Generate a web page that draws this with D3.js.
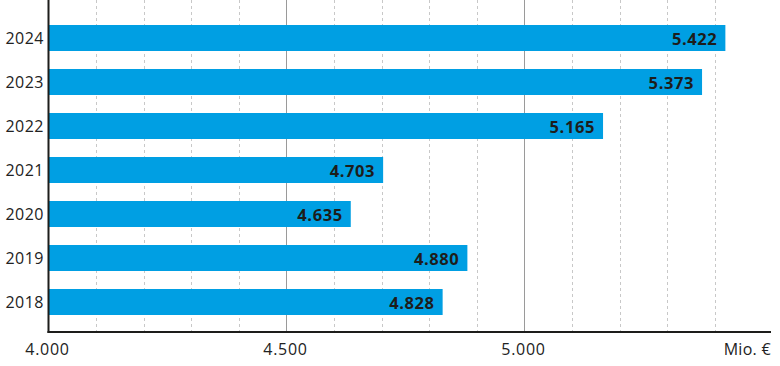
<!DOCTYPE html>
<html>
<head>
<meta charset="utf-8">
<script src="https://cdn.jsdelivr.net/npm/d3@7"></script>
<style>
  body { margin: 0; background: #fff; }
  svg { display: block; font-family: "Open Sans", sans-serif; }
</style>
</head>
<body>
<svg id="chart" width="780" height="366"></svg>
<script>
// values in Mio. €
const years = ["2024", "2023", "2022", "2021", "2020", "2019", "2018"];
const values = [5422, 5373, 5165, 4703, 4635, 4880, 4828];
const majorTicks = [4000, 4500, 5000];
const tickLabels = ["4.000", "4.500", "5.000"];
const minorTicks = [4100, 4200, 4300, 4400, 4600, 4700, 4800, 4900, 5100, 5200, 5300, 5400];
const unitLabel = "Mio. €";

const fmt = v => d3.format(",")(v).replace(/,/g, ".");

var svg = d3.select("#chart");

const AXIS_Y = 332;
const LEFT = 48.5;

var x = d3.scaleLinear().domain([4000, 5000]).range([LEFT, 524.5]);
var y = d3.scaleBand()
  .domain(years)
  .range([16, 16 + years.length * 44])
  .paddingInner(18 / 44)
  .paddingOuter(9 / 44);

// dashed minor gridlines
svg.selectAll("line.minor")
  .data(minorTicks)
  .enter()
  .append("line")
  .attr("class", "minor")
  .attr("x1", d => Math.round(x(d)) + 0.5)
  .attr("x2", d => Math.round(x(d)) + 0.5)
  .attr("y1", 0)
  .attr("y2", AXIS_Y)
  .attr("stroke", "#c8c8c8")
  .attr("stroke-width", 1)
  .attr("stroke-dasharray", "3,3");

// solid major gridlines
svg.selectAll("line.major")
  .data(majorTicks.slice(1))
  .enter()
  .append("line")
  .attr("class", "major")
  .attr("x1", d => x(d))
  .attr("x2", d => x(d))
  .attr("y1", 0)
  .attr("y2", AXIS_Y)
  .attr("stroke", "#9a9a9a")
  .attr("stroke-width", 1);

// bars
svg.selectAll("rect.bar")
  .data(values)
  .enter()
  .append("rect")
  .attr("class", "bar")
  .attr("x", LEFT)
  .attr("y", (d, i) => y(years[i]))
  .attr("width", d => x(d) - LEFT)
  .attr("height", y.bandwidth())
  .attr("fill", "#009fe3");

// value labels inside bars
svg.selectAll("text.val")
  .data(values)
  .enter()
  .append("text")
  .attr("class", "val")
  .attr("x", d => x(d) - 8)
  .attr("y", (d, i) => y(years[i]) + y.bandwidth() / 2 + 1.5)
  .attr("dy", "0.36em")
  .attr("text-anchor", "end")
  .attr("font-size", 16.5)
  .attr("font-weight", 700)
  .attr("letter-spacing", 0.6)
  .attr("fill", "#1d1d1b")
  .text(d => fmt(d));

// year labels
svg.selectAll("text.year")
  .data(years)
  .enter()
  .append("text")
  .attr("class", "year")
  .attr("x", 44)
  .attr("y", d => y(d) + y.bandwidth() / 2 + 0.5)
  .attr("dy", "0.36em")
  .attr("text-anchor", "end")
  .attr("font-size", 16)
  .attr("letter-spacing", 0.5)
  .attr("fill", "#222")
  .text(d => d);

// axes lines
svg.append("line")
  .attr("x1", LEFT).attr("x2", LEFT)
  .attr("y1", 0).attr("y2", AXIS_Y + 1)
  .attr("stroke", "#1d1d1b").attr("stroke-width", 2);
svg.append("line")
  .attr("x1", LEFT - 1).attr("x2", 771)
  .attr("y1", AXIS_Y).attr("y2", AXIS_Y)
  .attr("stroke", "#1d1d1b").attr("stroke-width", 2);

// x tick labels
svg.selectAll("text.tick")
  .data(majorTicks)
  .enter()
  .append("text")
  .attr("class", "tick")
  .attr("x", d => x(d) - 1)
  .attr("y", 355)
  .attr("text-anchor", "middle")
  .attr("font-size", 16)
  .attr("letter-spacing", 0.7)
  .attr("fill", "#222")
  .text((d, i) => tickLabels[i]);

svg.append("text")
  .attr("x", 771)
  .attr("y", 355)
  .attr("text-anchor", "end")
  .attr("font-size", 16)
  .attr("letter-spacing", 0.3)
  .attr("fill", "#222")
  .text(unitLabel);
</script>
</body>
</html>
